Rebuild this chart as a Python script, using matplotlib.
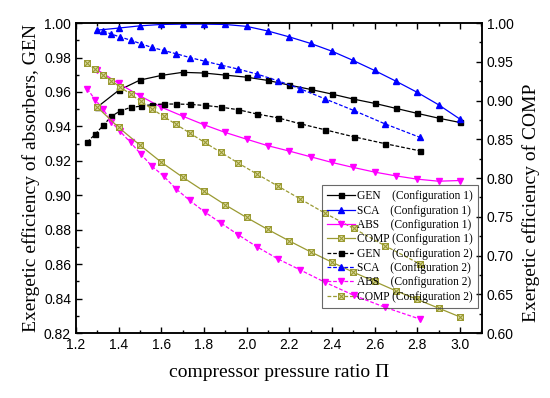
import numpy as np
import matplotlib
matplotlib.use("Agg")
import matplotlib.pyplot as plt
from matplotlib.path import Path
from matplotlib.ticker import MultipleLocator, FormatStrFormatter

# ---- data ----
x_conf1 = [1.3, 1.4, 1.5, 1.6, 1.7, 1.8, 1.9, 2.0, 2.1, 2.2, 2.3, 2.4, 2.5, 2.6, 2.7, 2.8, 2.9, 3.0]
gen_conf1 = [0.9512, 0.9609, 0.9669, 0.9696, 0.9714, 0.9710, 0.9698, 0.9686, 0.9667, 0.9640,
             0.9615, 0.9588, 0.9559, 0.9534, 0.9505, 0.9476, 0.9448, 0.9423]
sca_conf1 = [0.9959, 0.9971, 0.9984, 0.9992, 0.9994, 0.9994, 0.9992, 0.9981, 0.9954, 0.9920,
             0.9882, 0.9837, 0.9783, 0.9725, 0.9663, 0.9598, 0.9526, 0.9443]
abs_conf1 = [0.9729, 0.9650, 0.9578, 0.9512, 0.9460, 0.9410, 0.9365, 0.9326, 0.9288, 0.9257,
             0.9224, 0.9191, 0.9162, 0.9135, 0.9113, 0.9094, 0.9082, 0.9086]
comp_conf1 = [0.8916, 0.8654, 0.8426, 0.8206, 0.8013, 0.7832, 0.7655, 0.7492, 0.7337, 0.7190,
              0.7049, 0.6916, 0.6787, 0.6667, 0.6546, 0.6435, 0.6323, 0.6210]

x_conf2 = [1.253, 1.290, 1.328, 1.366, 1.406, 1.456, 1.505, 1.555, 1.611, 1.670, 1.734,
           1.803, 1.880, 1.961, 2.049, 2.147, 2.253, 2.370, 2.502, 2.649, 2.814]
gen_conf2 = [0.9309, 0.9354, 0.9406, 0.9458, 0.9489, 0.9510, 0.9518, 0.9526, 0.9530, 0.9530,
             0.9528, 0.9522, 0.9512, 0.9497, 0.9472, 0.9450, 0.9415, 0.9380, 0.9340, 0.9300, 0.9258]
x_sca_conf2 = x_conf2[2:]
sca_conf2 = [0.9955, 0.9936, 0.9920, 0.9901, 0.9880, 0.9859, 0.9841, 0.9822, 0.9800, 0.9779,
             0.9756, 0.9733, 0.9704, 0.9665, 0.9618, 0.9559, 0.9493, 0.9415, 0.9336]
abs_conf2 = [0.9619, 0.9555, 0.9500, 0.9427, 0.9373, 0.9307, 0.9239, 0.9171, 0.9112, 0.9037,
             0.8970, 0.8904, 0.8839, 0.8771, 0.8701, 0.8631, 0.8566, 0.8494, 0.8420, 0.8350, 0.8281]
comp_conf2 = [0.9480, 0.9406, 0.9333, 0.9256, 0.9178, 0.9084, 0.8990, 0.8895, 0.8796, 0.8693,
              0.8581, 0.8461, 0.8332, 0.8194, 0.8052, 0.7897, 0.7729, 0.7544, 0.7351, 0.7127, 0.6890]

labels = ["GEN    (Configuration 1)", "SCA    (Configuration 1)", "ABS    (Configuration 1)",
          "COMP (Configuration 1)", "GEN    (Configuration 2)", "SCA    (Configuration 2)",
          "ABS    (Configuration 2)", "COMP (Configuration 2)"]

# ---- style ----
serif = ["Liberation Serif", "DejaVu Serif"]
sans = ["Liberation Sans", "DejaVu Sans"]
plt.rcParams["font.family"] = sans

OLIVE = "#9a9a32"
BLUE = "#0000ff"
MAG = "#ff00ff"

xsq = Path([(-1, -1), (1, -1), (1, 1), (-1, 1), (-1, -1), (-1, -1), (1, 1), (-1, 1), (1, -1)],
           [Path.MOVETO, Path.LINETO, Path.LINETO, Path.LINETO, Path.CLOSEPOLY,
            Path.MOVETO, Path.LINETO, Path.MOVETO, Path.LINETO])

fig = plt.figure(figsize=(5.5, 3.98), dpi=100)
ax = fig.add_axes([0.138, 0.163, 0.738, 0.779])
ax2 = ax.twinx()

dash = (0, (3, 1.5))
lw = 0.9
h = []
h += ax.plot(x_conf1, gen_conf1, color="black", lw=lw, marker="s", ms=3.6)
h += ax.plot(x_conf1, sca_conf1, color=BLUE, lw=lw, marker="^", ms=4.5)
h += ax.plot(x_conf1, abs_conf1, color=MAG, lw=lw, marker="v", ms=4.5)
h += ax2.plot(x_conf1, comp_conf1, color=OLIVE, lw=lw, marker=xsq, ms=4.2,
              mfc="#e4e4b0", mec=OLIVE, mew=0.8)
h += ax.plot(x_conf2, gen_conf2, color="black", lw=lw, ls=dash, marker="s", ms=3.6)
h += ax.plot(x_sca_conf2, sca_conf2, color=BLUE, lw=lw, ls=dash, marker="^", ms=4.5)
h += ax.plot(x_conf2, abs_conf2, color=MAG, lw=lw, ls=dash, marker="v", ms=4.5)
h += ax2.plot(x_conf2, comp_conf2, color=OLIVE, lw=lw, ls=dash, marker=xsq, ms=4.2,
              mfc="#e4e4b0", mec=OLIVE, mew=0.8)

ax.set_xlim(1.2, 3.103)
ax.set_ylim(0.82, 1.00)
ax2.set_ylim(0.60, 1.00)

ax.xaxis.set_major_locator(MultipleLocator(0.2))
ax.xaxis.set_minor_locator(MultipleLocator(0.1))
ax.xaxis.set_major_formatter(FormatStrFormatter("%.1f"))
ax.yaxis.set_major_locator(MultipleLocator(0.02))
ax.yaxis.set_minor_locator(MultipleLocator(0.01))
ax.yaxis.set_major_formatter(FormatStrFormatter("%.2f"))
ax2.yaxis.set_major_locator(MultipleLocator(0.05))
ax2.yaxis.set_minor_locator(MultipleLocator(0.025))
ax2.yaxis.set_major_formatter(FormatStrFormatter("%.2f"))

ax.tick_params(which="both", direction="in", top=True, right=False, labelsize=10, width=1.0)
ax.tick_params(which="major", length=4)
ax.tick_params(which="minor", length=2.2)
ax2.tick_params(which="both", direction="in", labelsize=10, width=1.0)
ax2.tick_params(which="major", length=4)
ax2.tick_params(which="minor", length=2.2)
for a in (ax, ax2):
    for s in a.spines.values():
        s.set_linewidth(1.1)

ax.set_xlabel("compressor pressure ratio \u03a0", fontsize=14, family=serif, labelpad=9)
ax.set_ylabel("Exergetic efficiency of absorbers, GEN", fontsize=14, family=serif, labelpad=3)
ax2.set_ylabel("Exergetic efficiency of COMP", fontsize=14, family=serif, labelpad=6)
ax2.yaxis.label.set_y(0.42)

leg = ax2.legend(h, labels, loc="upper right", bbox_to_anchor=(0.99, 0.477),
                 borderaxespad=0, prop={"family": serif, "size": 8.3},
                 frameon=True, fancybox=False, facecolor="none", edgecolor="#444444",
                 handlelength=2.4, handletextpad=0.15, labelspacing=0.2,
                 borderpad=0.45)
leg.get_frame().set_linewidth(0.8)

fig.savefig("out.png", dpi=100)
